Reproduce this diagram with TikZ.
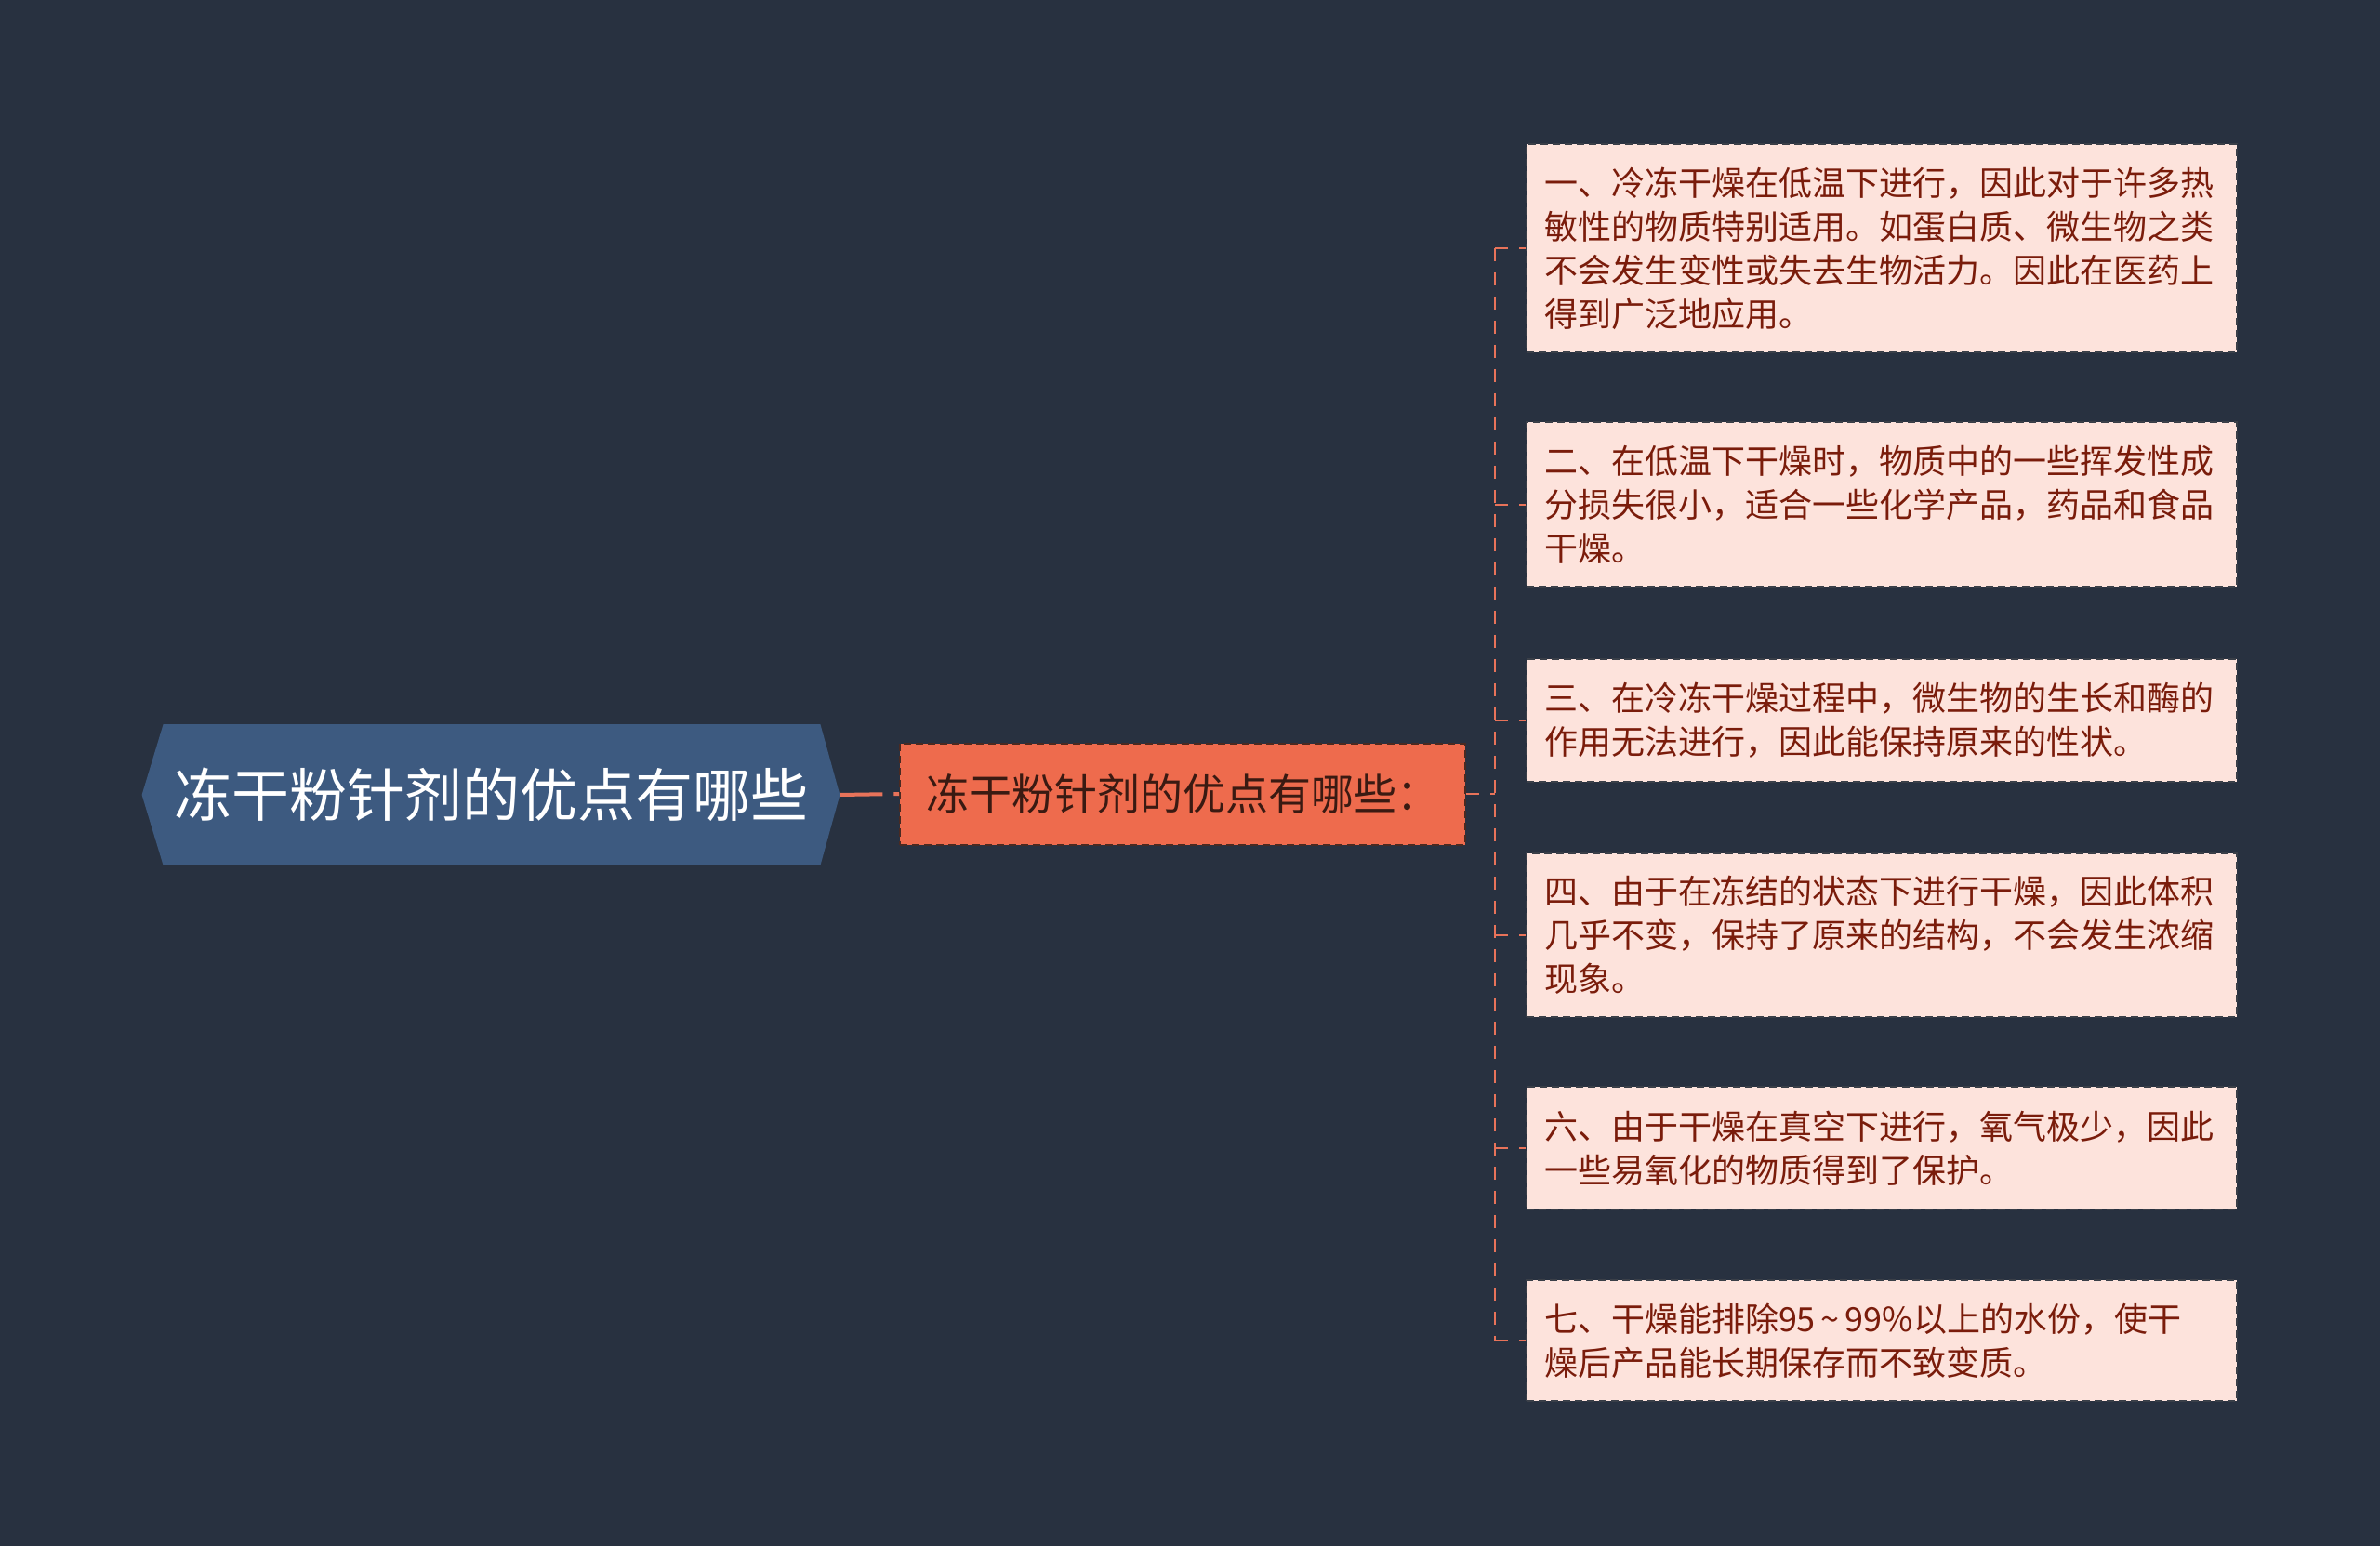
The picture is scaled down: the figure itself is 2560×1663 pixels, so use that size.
\documentclass[tikz,border=0pt]{standalone}
\usepackage{fontspec}
\newfontfamily\cjk{Noto Sans CJK SC}
\usetikzlibrary{calc}
\definecolor{bgc}{HTML}{283140}
\definecolor{rootc}{HTML}{3D5A80}
\definecolor{midc}{HTML}{EE6B4D}
\definecolor{midb}{HTML}{4A2A22}
\definecolor{midt}{HTML}{3A1A12}
\definecolor{leafc}{HTML}{FDE3DC}
\definecolor{leafb}{HTML}{3A3F48}
\definecolor{leaft}{HTML}{7A1C0B}
\definecolor{connc}{HTML}{E8735A}
\tikzset{
  leafbox/.style={draw=leafb, fill=leafc, dash pattern=on 4pt off 2.5pt, line width=1pt,
    text=leaft, font=\cjk\fontsize{18pt}{23.5pt}\selectfont, text width=363pt, align=left,
    inner xsep=9.5pt, inner ysep=0pt, minimum width=382pt, anchor=west},
  midbox/.style={draw=midb, fill=midc, dash pattern=on 4pt off 2.5pt, line width=1pt,
    text=midt, font=\cjk\fontsize{23pt}{28pt}\selectfont, minimum width=304pt, minimum height=54.5pt, inner sep=0pt},
  rootbox/.style={text=white, font=\cjk\fontsize{31pt}{36pt}\selectfont, minimum width=375pt, minimum height=75.5pt, inner sep=0pt},
  conn/.style={draw=connc, line width=2pt, dash pattern=on 23pt off 6pt},
  trunkline/.style={draw=connc, line width=1.4pt, dash pattern=on 7pt off 6pt},
}
\begin{document}
\begin{tikzpicture}[x=0.5pt,y=-0.5pt]
\fill[bgc] (0,0) rectangle (2560,1663);
\useasboundingbox (0,0) rectangle (2560,1663);
% root
\node[rootbox] (root) at (528,855) {};
\fill[rootc] (root.west) -- ($(root.north west)+(23,0)$) -- ($(root.north east)+(-21,0)$) -- (root.east)
  -- ($(root.south east)+(-21,0)$) -- ($(root.south west)+(23,0)$) -- cycle;
\node[rootbox] at (root.center) {冻干粉针剂的优点有哪些};
% middle
\node[midbox] (mid) at (1272,854) {冻干粉针剂的优点有哪些：};
% leaves
\node[leafbox, minimum height=112pt] (l1) at (1641,267) {一、冷冻干燥在低温下进行，因此对于许多热\\敏性的物质特别适用。如蛋白质、微生物之类\\不会发生变性或失去生物活力。因此在医药上\\得到广泛地应用。};
\node[leafbox, minimum height=88.5pt] (l2) at (1641,543) {二、在低温下干燥时，物质中的一些挥发性成\\分损失很小，适合一些化学产品，药品和食品\\干燥。};
\node[leafbox, minimum height=66pt] (l3) at (1641,775) {三、在冷冻干燥过程中，微生物的生长和酶的\\作用无法进行，因此能保持原来的性状。};
\node[leafbox, minimum height=88pt] (l4) at (1641,1006) {四、由于在冻结的状态下进行干燥，因此体积\\几乎不变，保持了原来的结构，不会发生浓缩\\现象。};
\node[leafbox, minimum height=66pt] (l5) at (1641,1235) {六、由于干燥在真空下进行，氧气极少，因此\\一些易氧化的物质得到了保护。};
\node[leafbox, minimum height=65pt] (l6) at (1641,1442) {七、干燥能排除95\,\char"7E\,99\%以上的水份，使干\\燥后产品能长期保存而不致变质。};
% connectors
\coordinate (trunk) at (1608,854);
\draw[conn] (root.east) -- (mid.west);
\draw[trunkline] (mid.east) -- (trunk);
\draw[trunkline] (trunk |- l1.west) -- (trunk |- l6.west);
\foreach \n in {l1,l2,l3,l4,l5,l6}{
  \draw[trunkline] (trunk |- \n.west) -- (\n.west);
}
\end{tikzpicture}
\end{document}
